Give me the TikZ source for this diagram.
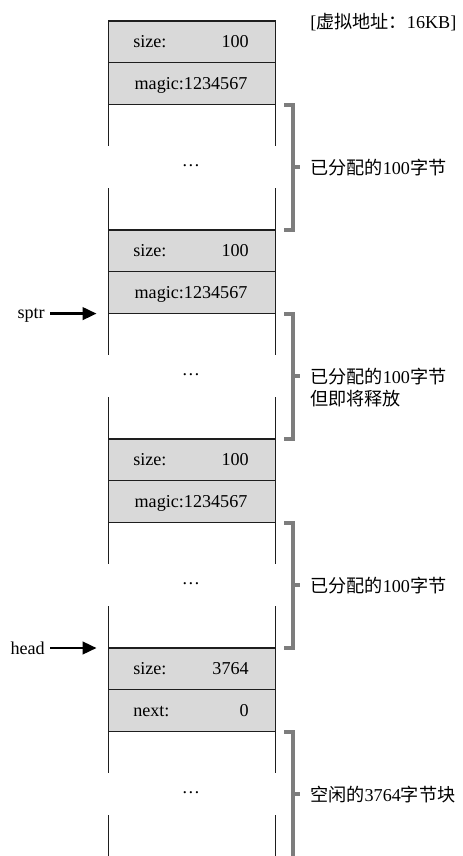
\documentclass[tikz,border=0pt]{standalone}
\usepackage{fontspec}
\setmainfont{Liberation Serif}
\newfontfamily\cjk{Noto Sans CJK SC}
\usetikzlibrary{arrows.meta}
\definecolor{hdrfill}{RGB}{217,217,217}
\definecolor{brkgray}{RGB}{125,125,125}
\definecolor{linecol}{RGB}{30,30,30}
\tikzset{
  hdr/.style={draw=linecol, fill=hdrfill, line width=0.8pt,
    minimum width=125.25pt, minimum height=31.35pt, inner sep=0pt, outer sep=0pt},
  side/.style={draw=linecol, line width=0.8pt},
  brk/.style={draw=brkgray, line width=3pt, line join=miter},
  txt/.style={inner sep=0pt},
  lbl/.style={anchor=west, inner sep=0pt, align=left},
  ptrlbl/.style={anchor=base east, inner xsep=3.75pt, inner ysep=0pt},
  ptr/.style={-{Triangle[length=10.5pt,width=9.5pt]}, line width=1.8pt}
}
\begin{document}
\begin{tikzpicture}[x=0.75pt,y=-0.75pt,font=\fontsize{13.6}{16.5}\selectfont]
\useasboundingbox (0,0) rectangle (462,856);

% ---------- block 1 ----------
\node[hdr] (a1) at (192,41.9) {};
\node[hdr] (b1) at (192,83.7) {};
\node[txt,anchor=base west] (s1) at (133,47.9) {size:};
\node[txt,anchor=base east] (v1) at (249,47.9) {100};
\node[txt,anchor=base] (m1) at (191,89.7) {magic:1234567};
\node[txt] (d1) at (191,165.5) {…};

% ---------- block 2 ----------
\node[hdr] (a2) at (192,250.9) {};
\node[hdr] (b2) at (192,292.7) {};
\node[txt,anchor=base west] (s2) at (133,256.9) {size:};
\node[txt,anchor=base east] (v2) at (249,256.9) {100};
\node[txt,anchor=base] (m2) at (191,298.7) {magic:1234567};
\node[txt] (d2) at (191,374.5) {…};

% ---------- block 3 ----------
\node[hdr] (a3) at (192,459.9) {};
\node[hdr] (b3) at (192,501.7) {};
\node[txt,anchor=base west] (s3) at (133,465.9) {size:};
\node[txt,anchor=base east] (v3) at (249,465.9) {100};
\node[txt,anchor=base] (m3) at (191,507.7) {magic:1234567};
\node[txt] (d3) at (191,583.5) {…};

% ---------- block 4 (free) ----------
\node[hdr] (a4) at (192,668.9) {};
\node[hdr] (b4) at (192,710.7) {};
\node[txt,anchor=base west] (s4) at (133,674.9) {size:};
\node[txt,anchor=base east] (v4) at (249,674.9) {3764};
\node[txt,anchor=base west] (n4) at (133,716.7) {next:};
\node[txt,anchor=base east] (z4) at (249,716.7) {0};
\node[txt] (d4) at (191,792.5) {…};

% ---------- side lines of the bodies ----------
\foreach \b/\a in {b1/a2,b2/a3,b3/a4}{
  \draw[side] (\b.south west) -- ++(0,41.8);
  \draw[side] (\b.south east) -- ++(0,41.8);
  \draw[side] (\a.north west) -- ++(0,-41.8);
  \draw[side] (\a.north east) -- ++(0,-41.8);
}
\draw[side] (b4.south west) -- ++(0,41.8);
\draw[side] (b4.south east) -- ++(0,41.8);
\draw[side] ([yshift=-62.7pt]b4.south west) -- ++(0,45);
\draw[side] ([yshift=-62.7pt]b4.south east) -- ++(0,45);

% ---------- brackets ----------
\draw[brk] (284,104.6) -- (292.7,104.6) -- (292.7,230) -- (284,230);
\draw[brk] (292.7,167.3) -- (300,167.3);
\draw[brk] (284,313.6) -- (292.7,313.6) -- (292.7,439) -- (284,439);
\draw[brk] (292.7,376.3) -- (300,376.3);
\draw[brk] (284,522.6) -- (292.7,522.6) -- (292.7,648) -- (284,648);
\draw[brk] (292.7,585.3) -- (300,585.3);
\draw[brk] (284,731.6) -- (292.7,731.6) -- (292.7,860);
\draw[brk] (292.7,794.3) -- (300,794.3);

% ---------- labels ----------
\node[lbl] (top) at (310,22) {[{\cjk 虚拟地址：}16KB]};
\node[lbl] (l1) at (310,167.3) {{\cjk 已分配的}100{\cjk 字节}};
\node[lbl] (l2) at (310,387.4) {{\cjk 已分配的}100{\cjk 字节}\\{\cjk 但即将释放}};
\node[lbl] (l3) at (310,585.3) {{\cjk 已分配的}100{\cjk 字节}};
\node[lbl] (l4) at (310,794.3) {{\cjk 空闲的}3764{\cjk 字节块}};

% ---------- pointers ----------
\coordinate (sp) at ([xshift=-9pt]b2.south west);
\coordinate (hp) at ([xshift=-9pt]a4.north west);
\node[ptrlbl] (sptr) at (50,318.5) {sptr};
\node[ptrlbl] (head) at (50,654.5) {head};
\draw[ptr] (sptr.east |- sp) -- (sp);
\draw[ptr] (head.east |- hp) -- (hp);
\end{tikzpicture}
\end{document}
